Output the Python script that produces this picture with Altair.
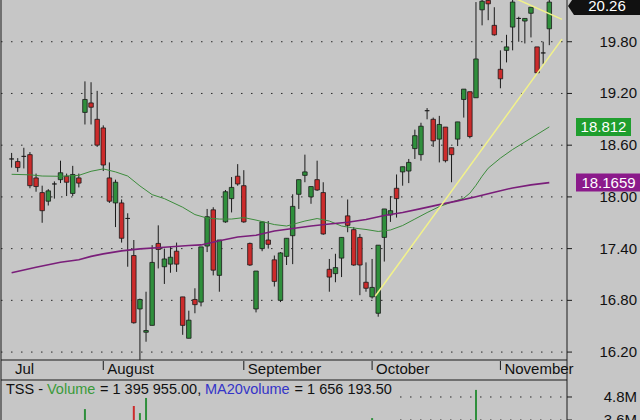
import altair as alt
import numpy as np
import pandas as pd

# ---- TSS daily sessions (index 0 = first session on the chart) ----
opens = [18.44, 18.41, 18.47, 18.49, 18.22, 18.05, 17.95, 18.15, 18.20, 18.24,
         18.04, 18.22, 18.98, 19.09, 18.90, 18.80, 18.22, 17.93, 17.93, 17.75,
         17.32, 16.70, 16.43, 16.51, 17.46, 17.19, 17.22, 17.37, 16.84, 16.36,
         16.81, 16.78, 17.43, 17.85, 17.09, 17.71, 17.98, 18.24, 18.13, 17.46,
         16.70, 17.40, 17.50, 17.27, 16.80, 17.31, 17.55, 18.03, 18.25, 18.00,
         18.20, 18.05, 17.16, 17.11, 17.29, 17.78, 17.62, 17.53, 17.01, 16.84,
         16.65, 17.53, 17.79, 18.10, 18.29, 18.30, 18.56, 18.49, 19.00, 18.90,
         18.67, 18.81, 18.57, 18.67, 19.13, 19.22, 19.15, 20.17, 20.28, 19.99,
         19.48, 19.70, 19.97, 20.07, 20.04, 20.13, 19.74, 19.67, 19.95]
highs = [18.51, 18.45, 18.57, 18.52, 18.27, 18.13, 18.09, 18.18, 18.42, 18.27,
         18.36, 18.27, 19.34, 19.33, 19.23, 18.83, 18.40, 18.20, 17.97, 17.81,
         17.50, 16.82, 16.90, 17.44, 17.67, 17.40, 17.42, 17.47, 16.84, 16.68,
         16.94, 17.42, 17.86, 17.88, 17.50, 18.08, 18.23, 18.38, 18.31, 17.47,
         17.14, 17.72, 17.72, 17.32, 17.36, 17.52, 18.03, 18.20, 18.49, 18.12,
         18.42, 18.17, 17.28, 17.34, 17.53, 17.97, 17.65, 17.57, 17.24, 17.28,
         17.44, 17.86, 18.01, 18.26, 18.35, 18.44, 18.78, 18.86, 19.03, 18.92,
         18.94, 18.81, 18.57, 18.87, 19.25, 19.22, 20.26, 20.29, 20.29, 20.20,
         19.70, 19.88, 20.29, 20.09, 20.07, 20.20, 19.74, 19.80, 20.29]
lows = [18.34, 18.29, 18.33, 18.10, 18.06, 17.70, 17.90, 17.98, 18.16, 18.01,
        18.01, 18.11, 18.84, 18.84, 18.58, 18.30, 17.93, 17.65, 17.47, 17.19,
        16.53, 16.11, 16.32, 16.51, 17.17, 16.99, 17.12, 17.13, 16.40, 16.36,
        16.65, 16.73, 17.36, 17.09, 16.90, 17.70, 17.82, 18.13, 17.70, 17.20,
        16.66, 17.37, 17.40, 16.96, 16.78, 17.21, 17.22, 17.86, 18.17, 17.92,
        18.07, 17.56, 16.90, 17.01, 17.07, 17.59, 17.20, 16.86, 16.90, 16.82,
        16.61, 17.25, 17.71, 17.76, 18.13, 18.16, 18.44, 18.42, 18.90, 18.58,
        18.40, 18.40, 18.17, 18.59, 18.92, 18.68, 19.15, 19.99, 20.05, 19.87,
        19.26, 19.56, 19.70, 19.80, 19.78, 19.85, 19.43, 19.54, 19.76]
closes = [18.44, 18.34, 18.47, 18.13, 18.12, 17.84, 18.07, 18.15, 18.28, 18.17,
          18.26, 18.16, 19.13, 19.04, 18.60, 18.37, 17.95, 18.17, 17.52, 17.75,
          16.54, 16.81, 16.45, 17.24, 17.39, 17.28, 17.30, 17.22, 16.51, 16.57,
          16.75, 17.42, 17.77, 17.15, 17.50, 18.06, 18.11, 18.15, 17.71, 17.21,
          17.14, 17.71, 17.45, 17.02, 17.35, 17.52, 17.89, 18.20, 18.29, 18.12,
          18.08, 17.57, 17.07, 17.18, 17.53, 17.67, 17.21, 17.21, 16.94, 16.95,
          17.44, 17.86, 17.84, 17.98, 18.35, 18.40, 18.71, 18.82, 19.00, 18.65,
          18.84, 18.42, 18.49, 18.87, 19.25, 18.70, 19.60, 20.27, 20.24, 19.88,
          19.37, 19.74, 20.26, 20.07, 20.07, 20.20, 19.44, 19.67, 20.26]

# volume bars tall enough to show in the lower pane, plus the last session
vol_idx = [12, 20, 21, 22, 59, 76, 88]
vol_val = [4.17e6, 4.33e6, 3.96e6, 4.75e6, 3.70e6, 5.17e6, 1395955.00]
ma20_volume = 1656193.50

# moving averages
ma20_idx = [0, 3, 5, 8, 11, 13, 15, 17, 19, 21, 23, 25, 28, 30, 32, 34, 36, 38,
            40, 43, 45, 48, 50, 52, 54, 56, 58, 60, 62, 64, 66, 68, 70, 72, 74,
            75, 76, 77, 78, 80, 82, 84, 86, 88]
ma20_val = [18.262, 18.256, 18.242, 18.239, 18.250, 18.297, 18.325, 18.290,
            18.242, 18.127, 18.026, 17.980, 17.880, 17.795, 17.754, 17.743,
            17.743, 17.760, 17.731, 17.679, 17.662, 17.720, 17.749, 17.720,
            17.662, 17.639, 17.622, 17.599, 17.616, 17.668, 17.743, 17.818,
            17.887, 17.939, 17.985, 18.043, 18.135, 18.240, 18.333, 18.450,
            18.550, 18.637, 18.724, 18.812]
ma50_idx = [0, 4, 8, 11, 13, 15, 18, 21, 25, 29, 31, 34, 37, 40, 43, 46, 49, 52,
            55, 58, 61, 64, 67, 70, 73, 76, 79, 82, 85, 88]
ma50_val = [17.120, 17.183, 17.241, 17.270, 17.310, 17.339, 17.374, 17.397,
            17.416, 17.437, 17.443, 17.492, 17.535, 17.555, 17.604, 17.633,
            17.662, 17.685, 17.705, 17.737, 17.784, 17.818, 17.864, 17.910,
            17.954, 18.002, 18.054, 18.104, 18.139, 18.1659]

# hand-drawn trend lines
trend_up_idx = [59.53, 90.08]
trend_up_val = [16.85, 19.83]
trend_top_idx = [80.91, 90.08]
trend_top_val = [20.35, 20.06]

# axes
price_ticks = [16.2, 16.8, 17.4, 18.0, 18.6, 19.2, 19.8]
vol_ticks = [3.6e6, 4.8e6]
month_names = ["Jul", "August", "September", "October", "November"]
month_idx = [-0.1, 15, 38, 59, 80]
month_tick = [False, True, True, True, True]

# ---- layout / style ----
W, H = 566, 420
PRICE_BOTTOM, STRIP_BOTTOM = 360, 380
FONT = "Liberation Sans"
BG = "#c6c6c6"
GREEN, RED = "#2f8f3c", "#cc2b2b"
INK = "#1a1a1a"
DOTS = [1.5, 8.5]

x_scale = alt.Scale(domain=[-0.92, 90.08], nice=False, zero=False)
p_scale = alt.Scale(domain=[15.412, 20.284], nice=False, zero=False)
v_scale = alt.Scale(domain=[3.6e6, 25.513e6], nice=False, zero=False)
dir_color = alt.Color("dir:N", scale=alt.Scale(domain=["up", "down"], range=[GREEN, RED]), legend=None)

X = alt.X("idx:Q", scale=x_scale, axis=None)


def PY(field):
    return alt.Y(field, scale=p_scale, axis=None)


def VY(field):
    return alt.Y(field, scale=v_scale, axis=None)


candles = pd.DataFrame({"idx": np.arange(len(opens)), "open": opens, "high": highs,
                        "low": lows, "close": closes})
candles["dir"] = np.where(candles["close"] >= candles["open"], "up", "down")

# price scale: dotted grid, right-hand ticks and labels
pt = pd.DataFrame({"v": price_ticks, "t": [f"{v:.2f}" for v in price_ticks]})
p_grid = alt.Chart(pt).mark_rule(color="#2a2a2a", strokeDash=DOTS).encode(
    x=alt.value(0), x2=alt.value(W), y=PY("v:Q"))
p_tick = alt.Chart(pt).mark_rule(color=INK).encode(
    x=alt.value(W), x2=alt.value(W + 5), y=PY("v:Q"))
p_lab = alt.Chart(pt).mark_text(font=FONT, fontSize=15, color="#111", align="right",
                                baseline="middle").encode(
    x=alt.value(636), y=PY("v:Q"), text="t:N")

wicks = alt.Chart(candles).mark_rule(color=INK, strokeWidth=1).encode(
    x=X, y=PY("low:Q"), y2="high:Q")
bodies = alt.Chart(candles).mark_bar(size=4.5, stroke=INK, strokeWidth=0.8).encode(
    x=X, y=PY("open:Q"), y2="close:Q", color=dir_color)

ma20 = alt.Chart(pd.DataFrame({"idx": ma20_idx, "v": ma20_val})).mark_line(
    color="#3c8c3c", strokeWidth=1).encode(x=X, y=PY("v:Q"))
ma50 = alt.Chart(pd.DataFrame({"idx": ma50_idx, "v": ma50_val})).mark_line(
    color="#7a1e7a", strokeWidth=1.6).encode(x=X, y=PY("v:Q"))
tl_up = alt.Chart(pd.DataFrame({"idx": trend_up_idx, "v": trend_up_val})).mark_line(
    color="#f2f28a", strokeWidth=1.5, clip=True).encode(x=X, y=PY("v:Q"))
tl_top = alt.Chart(pd.DataFrame({"idx": trend_top_idx, "v": trend_top_val})).mark_line(
    color="#f2f28a", strokeWidth=1.5, clip=True).encode(x=X, y=PY("v:Q"))


def price_tag(value, label, fill, x0, x1, arrow=False, shift=0.0):
    """Coloured value box in the right margin, centred on the value's y."""
    w = x1 - x0
    cx = (x0 + x1) / 2
    u = w / 2
    hh = 9 / u
    dy = shift / u
    path = f"M-1,{dy - hh:.4f} L1,{dy - hh:.4f} L1,{dy + hh:.4f} L-1,{dy + hh:.4f} Z"
    if arrow:
        path = (f"M{-1 - 6 / u:.4f},{dy:.4f} L-1,{dy - hh:.4f} L1,{dy - hh:.4f} "
                f"L1,{dy + hh:.4f} L-1,{dy + hh:.4f} Z")
    df = pd.DataFrame({"v": [value], "t": [label]})
    box = alt.Chart(df).mark_point(shape=path, filled=True, color=fill, opacity=1,
                                   size=w * w, strokeWidth=0).encode(
        x=alt.value(cx), y=PY("v:Q"))
    txt = alt.Chart(df).mark_text(color="white", font=FONT, fontSize=15, align="center",
                                  baseline="middle", dy=shift).encode(
        x=alt.value(cx), y=PY("v:Q"), text="t:N")
    return [box, txt]


tags = (price_tag(closes[-1], f"{closes[-1]:.2f}", "#111111", 573, 639, arrow=True, shift=4)
        + price_tag(ma20_val[-1], f"{ma20_val[-1]:.3f}", "#1f9e2e", 575, 630)
        + price_tag(ma50_val[-1], f"{ma50_val[-1]:.4f}", "#8b1a8b", 575, 640))

price_layer = alt.layer(p_grid, p_tick, p_lab, wicks, bodies, ma20, ma50, tl_up, tl_top, *tags)

# ---- month strip ----
months = pd.DataFrame({"idx": month_idx, "name": month_names, "tick": month_tick})
month_ticks = alt.Chart(months).transform_filter("datum.tick").mark_rule(
    color=INK, strokeWidth=1).encode(x=X, y=alt.value(361), y2=alt.value(370))
month_text = alt.Chart(months).mark_text(font=FONT, fontSize=15, color="#111", align="left",
                                         baseline="middle", dx=4).encode(
    x=X, y=alt.value(369), text="name:N")

# ---- volume pane ----
vols = pd.DataFrame({"idx": vol_idx, "vol": vol_val})
vols["dir"] = [candles.loc[i, "dir"] for i in vol_idx]
vol_bars = alt.Chart(vols).mark_rule(strokeWidth=2).encode(
    x=X, y=VY("vol:Q"), y2=alt.value(H), color=dir_color)
vt = pd.DataFrame({"v": vol_ticks, "t": [f"{v / 1e6:.1f}M" for v in vol_ticks]})
vol_grid = alt.Chart(vt).mark_rule(color="#2a2a2a", strokeDash=DOTS).encode(
    x=alt.value(399), x2=alt.value(W), y=VY("v:Q"))
vol_tick = alt.Chart(vt).mark_rule(color=INK).encode(
    x=alt.value(W), x2=alt.value(W + 5), y=VY("v:Q"))
vol_lab = alt.Chart(vt).mark_text(font=FONT, fontSize=15, color="#111", align="right",
                                  baseline="middle").encode(
    x=alt.value(636), y=VY("v:Q"), text="t:N")


def spaced(v):
    return f"{v:,.2f}".replace(",", " ")


title_parts = pd.DataFrame({
    "t": ["TSS -", "Volume", f"= {spaced(vol_val[-1])},", "MA20volume", f"= {spaced(ma20_volume)}"],
    "c": ["#111111", "#3a9a3a", "#111111", "#3434c8", "#111111"],
    "x": [5, 46, 99, 204, 293.6],
})
vol_title = alt.Chart(title_parts).mark_text(font=FONT, fontSize=14.5, align="left",
                                             baseline="middle").encode(
    x=alt.X("x:Q", scale=None), y=alt.value(390), text="t:N",
    color=alt.Color("c:N", scale=None))

vol_layer = alt.layer(vol_grid, vol_tick, vol_lab, vol_bars, vol_title)

# ---- pane frame ----
frame_v = alt.Chart(pd.DataFrame({"xx": [0, W]})).mark_rule(color=INK).encode(
    x=alt.X("xx:Q", scale=None), y=alt.value(0), y2=alt.value(H))
frame_h = alt.Chart(pd.DataFrame({"yy": [PRICE_BOTTOM, STRIP_BOTTOM]})).mark_rule(color=INK).encode(
    x=alt.value(0), x2=alt.value(W), y=alt.Y("yy:Q", scale=None))

chart = alt.layer(
    price_layer, vol_layer, month_ticks, month_text, frame_v, frame_h
).resolve_scale(y="independent").properties(
    width=W, height=H,
    autosize=alt.AutoSizeParams(type="none"),
    padding={"left": 1, "top": 0, "right": 73, "bottom": 0},
).configure(background=BG).configure_view(stroke=None)

chart.save("out.html", embed_options={"renderer": "svg", "actions": False})
